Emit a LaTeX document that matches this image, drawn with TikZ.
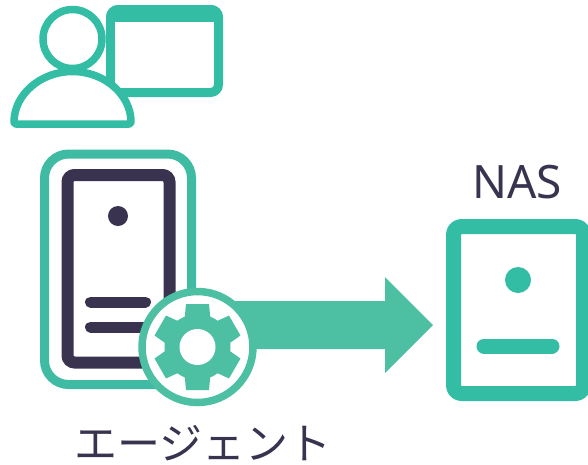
\documentclass[tikz,border=0pt]{standalone}
\usepackage{fontspec}
\setmainfont{Noto Sans}
\newfontfamily\jpfont{Noto Sans CJK JP}
\usepackage{tikz}
\definecolor{teal1}{HTML}{32BDA4}
\definecolor{teal2}{HTML}{4DBFA3}
\definecolor{teal3}{HTML}{3FBAA3}
\definecolor{navy1}{HTML}{393350}
\tikzstyle{outline}=[draw=teal1,fill=white,line join=round]
\tikzstyle{bar}=[draw,line cap=round,line width=11pt]
\tikzstyle{label}=[text=navy1,inner sep=0pt]

\begin{document}
\begin{tikzpicture}[x=1pt,y=-1pt]
    \clip (0,0) rectangle (588,464);

    % First we draw the window and the user
    \draw[outline,line width=9pt,rounded corners=8pt] (110.5,9.5) rectangle (218.5,92.5);
    \fill[teal1,rounded corners=12pt] (106,30) -- (106,5) -- (223,5) -- (223,30) -- cycle;
    \fill[white] (115,22) rectangle (214,40);
    \draw[outline,line width=7.5pt] (72.5,39) circle (29.5);
    \draw[outline,line width=7.5pt,rounded corners=2pt] (14,124) arc (180:360:58.5 and 52.5) -- cycle;

    % The agent server
    \draw[draw=teal3,fill=white,line width=9pt,rounded corners=24pt] (44.5,154) rectangle (191.5,384.5);
    \draw[draw=navy1,fill=white,line width=12pt,rounded corners=7pt] (67.5,175) rectangle (169.5,362.5);
    \fill[navy1] (118,216) circle (10);
    \foreach \ypos in {302,327}
        \draw[bar,navy1] (90.5,\ypos) -- (145.5,\ypos);

    % Arrow from the agent to the NAS
    \fill[teal2] (200,301) -- (385,301) -- (385,277) -- (433,325) -- (385,373) -- (385,349) -- (200,349) -- cycle;

    % Gear on top of the server
    \draw[draw=teal2,fill=white,line width=7.5pt] (197.5,347) circle (55.5);
    \fill[teal2] (197.5,347) circle (33);
    \foreach \ang in {0,60,...,300}
        \fill[teal2,rotate around={\ang:(197.5,347)}] (184.5,347) -- (184.5,320) -- (186,304) -- (209,304) -- (210.5,320) -- (210.5,347) -- cycle;
    \fill[white] (197.5,347) circle (18);

    % The NAS box
    \draw[outline,line width=15pt,rounded corners=8pt] (453.5,226.5) rectangle (583.5,393.5);
    \fill[teal1] (518,280) circle (13);
    \draw[bar,teal1,line width=15pt] (484,346) -- (552,346);

    \node[label,font=\fontsize{46}{46}\selectfont] (nas) at (517,182) {NAS};
    \node[label,font=\fontsize{43}{43}\selectfont] (agent) at (203,443.5) {\jpfont エージェント};
\end{tikzpicture}
\end{document}
